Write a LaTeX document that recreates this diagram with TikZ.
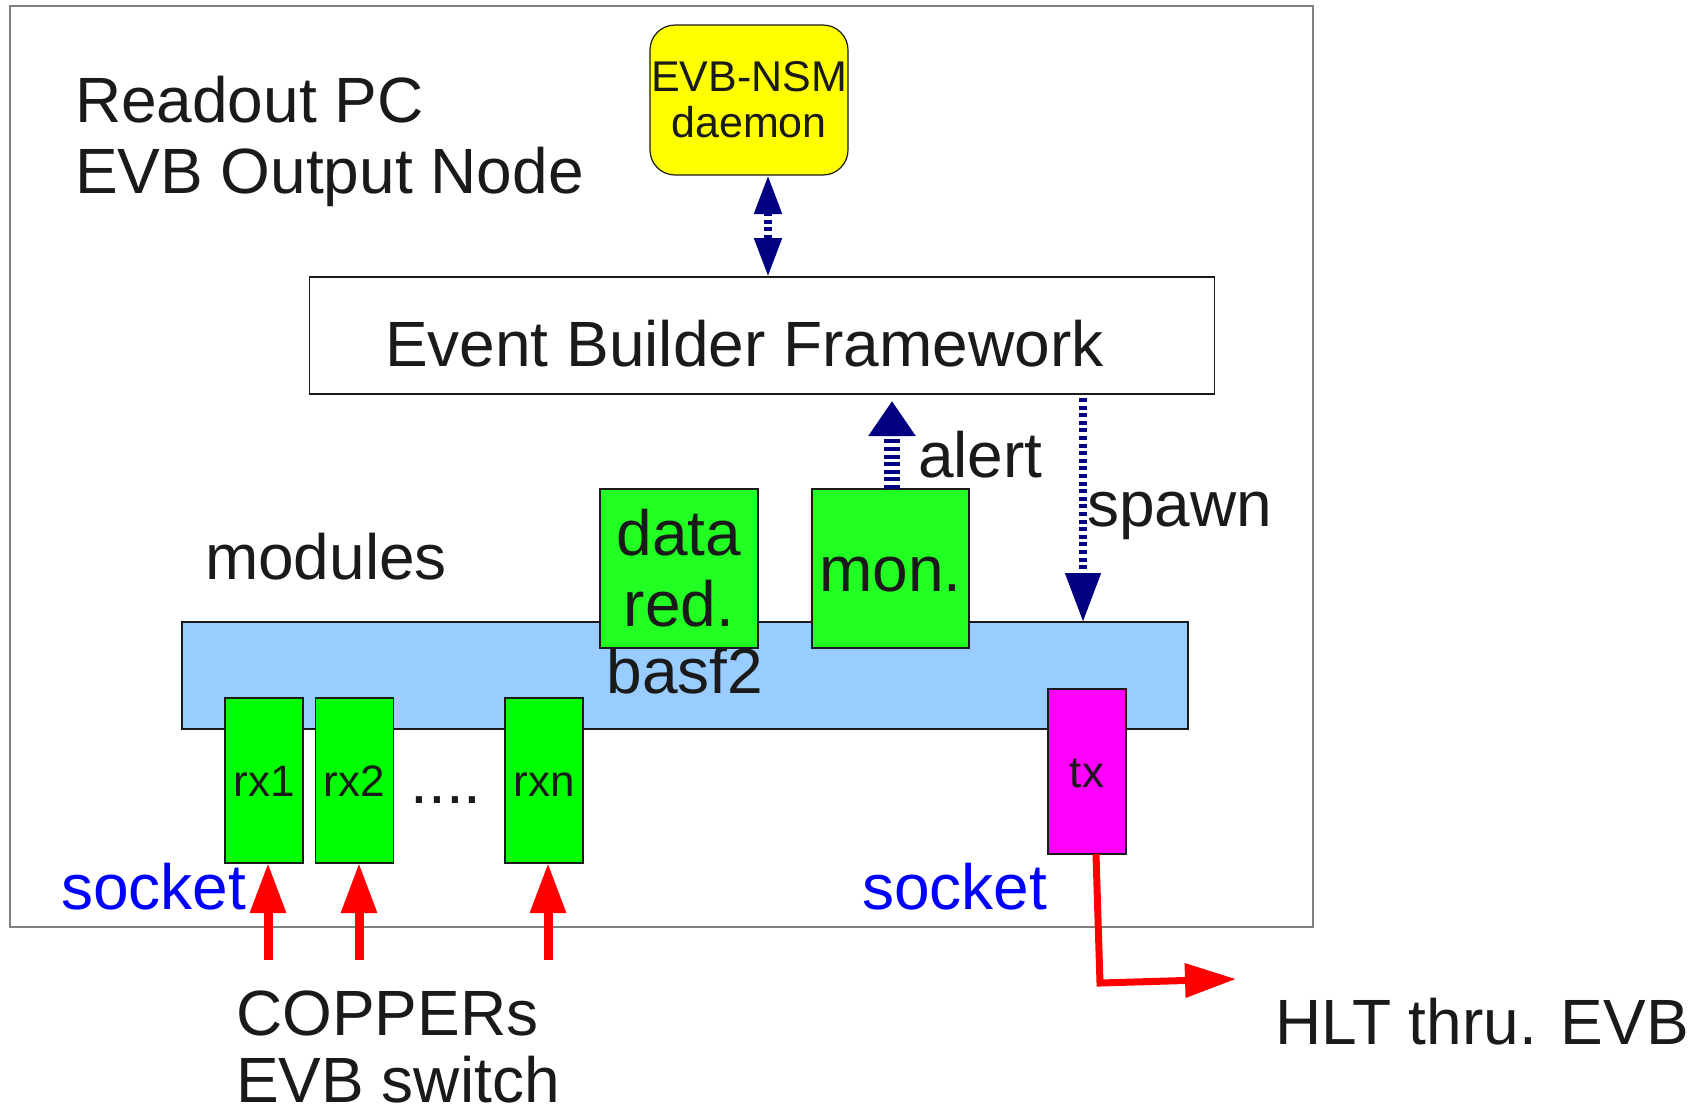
\documentclass[tikz,border=0pt]{standalone}
\usepackage{fontspec}
\setmainfont{Liberation Sans}
\usetikzlibrary{arrows.meta,calc}

\definecolor{ink}{HTML}{1A1A1A}
\definecolor{framegray}{HTML}{808080}
\definecolor{ctrlnavy}{HTML}{000080}
\definecolor{nsmyellow}{HTML}{FFFF00}
\definecolor{modgreen}{HTML}{22FF22}
\definecolor{rxgreen}{HTML}{00FF00}
\definecolor{basfblue}{HTML}{99CCFF}
\definecolor{txpink}{HTML}{FF00FF}
\definecolor{sockblue}{HTML}{0000FF}
\definecolor{flowred}{HTML}{FF0000}

\newcommand{\bigtxt}{\fontsize{64}{70}\selectfont}
\newcommand{\smalltxt}{\fontsize{43}{46}\selectfont}
\newcommand{\porttxt}{\fontsize{44}{46}\selectfont}

\begin{document}
\begin{tikzpicture}[x=1pt,y=-1pt,
  every node/.style={inner sep=0pt, outer sep=0pt, text=ink},
  txt/.style={font=\bigtxt, anchor=base west},
  blk/.style={draw=ink, line width=1.2pt, rectangle, inner sep=0pt},
  ctrl/.style={draw=ctrlnavy, line width=8pt, dash pattern=on 4pt off 3.6pt},
  flow/.style={draw=flowred, line width=9pt},
]
\useasboundingbox (0,0) rectangle (1697,1112);

% readout PC frame
\node[draw=framegray, line width=2pt, minimum width=1303pt, minimum height=921pt,
      anchor=north west] (pcframe) at (10,6) {};

\node[txt] (title1) at (75,122) {Readout PC};
\node[txt] (title2) at (75,193) {EVB Output Node};

% NSM daemon
\node[blk, fill=nsmyellow, rounded corners=25pt, minimum width=198pt, minimum height=150pt,
      font=\smalltxt, align=center] (nsm) at (749,100) {EVB-NSM\\daemon};

% event builder framework
\node[blk, fill=white, minimum width=905pt, minimum height=117pt] (ebf) at (762,335.5) {};
\node[txt] (ebftext) at (385,366) {Event Builder Framework};

% basf2 with its modules
\node[blk, fill=basfblue, minimum width=1006pt, minimum height=107pt,
      font=\bigtxt, text height=46pt, text depth=11pt] (basf) at (685,675.5) {basf2};
\node[txt] (modules) at (205,579) {modules};
\node[blk, fill=modgreen, minimum width=158pt, minimum height=159pt,
      font=\fontsize{64}{71}\selectfont, align=center] (datared) at (679,568.5) {data\\red.};
\node[blk, fill=modgreen, minimum width=157pt, minimum height=159pt,
      font=\bigtxt, text height=46pt, text depth=0pt] (mon) at (890.5,568.5) {mon.};

% receivers and sender
\tikzset{port/.style={blk, minimum width=78pt, minimum height=165pt,
      font=\porttxt, text height=31pt, text depth=0pt}}
\node[port, fill=rxgreen] (rx1) at (264,780.5) {rx1};
\node[port, fill=rxgreen] (rx2) at (354.5,780.5) {rx2};
\node[port, fill=rxgreen] (rxn) at (544,780.5) {rxn};
\node[font=\bigtxt, anchor=base] (dots) at (446,803) {....};
\node[port, fill=txpink] (tx) at (1087,771.5) {tx};

% control connections
\coordinate (nsmlink) at ($(nsm.south)+(19,0)$);
\draw[ctrl, {Triangle[length=39pt,width=26pt]}-{Triangle[length=39pt,width=26pt]}]
  (nsmlink) -- (nsmlink |- ebf.north);
\coordinate (alertx) at ($(mon.north)+(1.5,0)$);
\draw[ctrl, line width=16pt, shorten >=7pt, -{Triangle[length=35pt,width=45pt]}]
  (alertx) -- (alertx |- ebf.south);
\node[txt] (alert) at (918,477) {alert};
\coordinate (spawnx) at (1083,0);
\draw[ctrl, shorten <=4pt, -{Triangle[length=49pt,width=34pt]}]
  (ebf.south -| spawnx) -- (basf.north -| spawnx);
\node[txt] (spawn) at (1087,526) {spawn};

% data flow
\coordinate (in1) at (268,960);
\coordinate (in2) at (359,960);
\coordinate (inn) at (548,960);
\draw[flow, -{Triangle[length=50pt,width=34pt]}] (in1) -- (in1 |- rx1.south);
\draw[flow, -{Triangle[length=50pt,width=34pt]}] (in2) -- (in2 |- rx2.south);
\draw[flow, -{Triangle[length=50pt,width=34pt]}] (inn) -- (inn |- rxn.south);
\coordinate (bend) at (1100,983);
\coordinate (hltend) at (1236,979);
\draw[flow, line width=7pt, -{Triangle[length=51pt,width=33pt]}]
  ($(tx.south)+(9,0)$) -- (bend) -- (hltend);

\node[txt, text=sockblue] (sock1) at (61,909) {socket};
\node[txt, text=sockblue] (sock2) at (862,909) {socket};
\node[txt] (coppers) at (236,1035) {COPPERs};
\node[txt, text depth=0pt] (evbsw) at (236,1102) {EVB switch};
\node[txt] (hlt) at (1275,1044) {HLT thru. EVB};
\end{tikzpicture}
\end{document}
